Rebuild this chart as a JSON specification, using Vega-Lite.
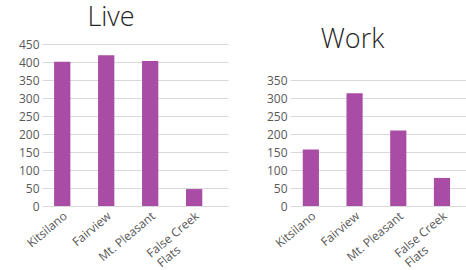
{
  "$schema": "https://vega.github.io/schema/vega-lite/v6.json",
  "padding": {"left": 18, "top": 4, "right": 0, "bottom": 0},
  "spacing": 38,
  "background": "white",
  "config": {
    "view": {"stroke": null},
    "font": "Open Sans",
    "axis": {
      "labelFont": "Open Sans",
      "labelFontSize": 12,
      "labelColor": "#595959",
      "ticks": false,
      "domain": false,
      "gridColor": "#d9d9d9",
      "gridWidth": 1,
      "title": null
    },
    "title": {
      "font": "Open Sans",
      "fontSize": 27,
      "fontWeight": 300,
      "color": "#262626",
      "anchor": "middle",
      "frame": "group",
      "baseline": "alphabetic",
      "offset": 6
    }
  },
  "hconcat": [
    {
      "title": {"text": "Live", "dx": -24},
      "width": 186,
      "height": 162,
      "data": {"values": [
        {"area": "Kitsilano", "value": 401},
        {"area": "Fairview", "value": 419},
        {"area": "Mt. Pleasant", "value": 403},
        {"area": "False Creek Flats", "value": 47}
      ]},
      "mark": {"type": "bar", "color": "#a84ca5"},
      "encoding": {
        "x": {
          "field": "area", "type": "nominal", "sort": null,
          "scale": {"paddingInner": 0.63, "paddingOuter": 0.43, "align": 0.32},
          "axis": {
            "labelAngle": -40, "labelPadding": 4, "grid": false, "domain": true, "domainColor": "#d9d9d9",
            "labelExpr": "datum.value == 'False Creek Flats' ? ['False Creek', 'Flats\u2800\u2800\u2800\u2800'] : datum.value"
          }
        },
        "y": {
          "field": "value", "type": "quantitative",
          "scale": {"domain": [0, 450]},
          "axis": {"values": [0, 50, 100, 150, 200, 250, 300, 350, 400, 450], "labelPadding": 3}
        }
      }
    },
    {
      "title": {"text": "Work", "dx": -26, "dy": 16},
      "width": 177,
      "height": 162,
      "data": {"values": [
        {"area": "Kitsilano", "value": 157},
        {"area": "Fairview", "value": 313},
        {"area": "Mt. Pleasant", "value": 210},
        {"area": "False Creek Flats", "value": 78}
      ]},
      "mark": {"type": "bar", "color": "#a84ca5"},
      "encoding": {
        "x": {
          "field": "area", "type": "nominal", "sort": null,
          "scale": {"paddingInner": 0.63, "paddingOuter": 0.34, "align": 0.43},
          "axis": {
            "labelAngle": -40, "labelPadding": 4, "grid": false, "domain": true, "domainColor": "#d9d9d9",
            "labelExpr": "datum.value == 'False Creek Flats' ? ['False Creek', 'Flats\u2800\u2800\u2800\u2800'] : datum.value"
          }
        },
        "y": {
          "field": "value", "type": "quantitative",
          "scale": {"domain": [0, 450]},
          "axis": {"values": [0, 50, 100, 150, 200, 250, 300, 350], "labelPadding": 3}
        }
      }
    }
  ]
}
